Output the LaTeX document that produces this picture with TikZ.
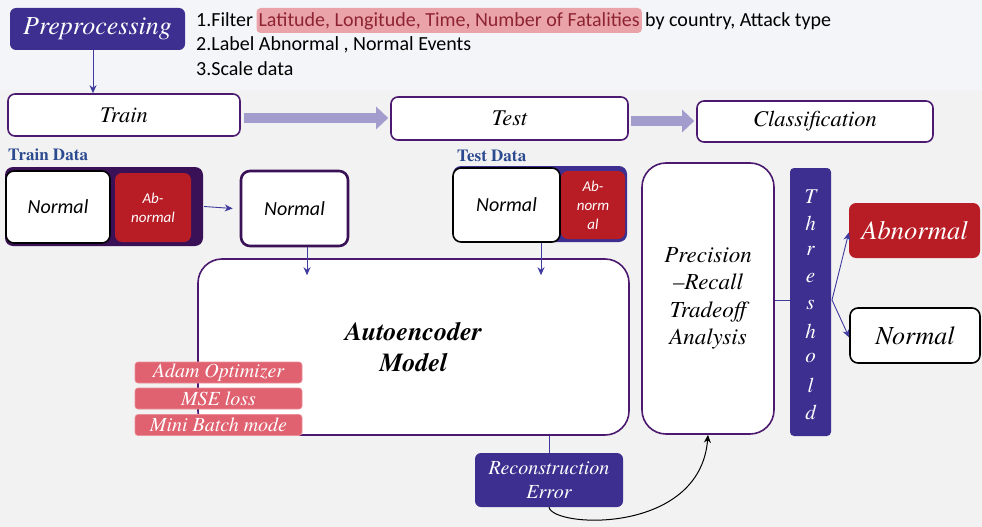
\documentclass[tikz,border=0pt]{standalone}
\usepackage{fontspec}
\setmainfont{texgyretermes}[Extension=.otf, UprightFont=*-regular, ItalicFont=*-italic, BoldFont=*-bold, BoldItalicFont=*-bolditalic]
\newfontfamily\carlito{Carlito}
\usetikzlibrary{arrows.meta}
\newcommand\fsz[2]{\fontsize{#1}{#2}\selectfont}
\definecolor{indigo}{HTML}{3C2F8F}
\definecolor{bord}{HTML}{4B1A70}
\definecolor{redb}{HTML}{B81D25}
\definecolor{hlpink}{HTML}{EBA3AA}
\definecolor{hltext}{HTML}{8E2433}
\definecolor{pinklab}{HTML}{E0616F}
\definecolor{fatc}{HTML}{A39DCD}
\definecolor{cont}{HTML}{3A1056}
\definecolor{arrc}{HTML}{3E3A9E}
\definecolor{tdblue}{HTML}{2C4A90}
\definecolor{bgA}{HTML}{F2F2F2}
\definecolor{bgB}{HTML}{F4F5F8}
\tikzset{
  stage/.style={draw=bord, line width=1.6pt, fill=white, rounded corners=7pt, inner sep=0pt, font=\fsz{22.5}{26}\itshape},
  indbox/.style={fill=indigo, rounded corners=6pt, inner sep=0pt, text=white, align=center},
  redbox/.style={fill=redb, rounded corners=7pt, inner sep=0pt, text=white, align=center},
  whitebox/.style={draw=black, line width=1.6pt, fill=white, rounded corners=8pt, inner sep=0pt},
  bigbox/.style={draw=bord, line width=1.6pt, fill=white, rounded corners=24pt, inner sep=0pt, align=center},
  plab/.style={fill=pinklab, draw=pinklab!70!white, line width=0.6pt, rounded corners=3pt, inner sep=0pt, minimum width=167pt, minimum height=21pt, text=white, font=\fsz{20}{22}\itshape},
  line1/.style={inner sep=0pt, anchor=base west, font=\carlito\fsz{20}{23}},
  thin/.style={draw=arrc, line width=0.9pt, -{Stealth[length=8pt,width=7pt]}},
  fat/.style={draw=fatc, line width=10pt, -{Triangle[length=12pt,width=22pt]}},
  dlabel/.style={inner sep=0pt, anchor=base west, text=tdblue, font=\fsz{17}{20}\bfseries},
  thl/.style={inner sep=0pt, text=white, font=\fsz{21}{24}\itshape}
}
\begin{document}
\begin{tikzpicture}[x=1pt,y=-1pt]
\useasboundingbox[fill=bgA] (0,0) rectangle (982,527);
\fill[bgB] (0,0) rectangle (982,90);

% preprocessing
\node[indbox, minimum width=175pt, minimum height=42pt, font=\fsz{26}{30}\itshape] (pre) at (97.5,29) {Preprocessing};
\node[line1] (l1a) at (196,27) {1.Filter};
\node[line1, fill=hlpink, text=hltext, rounded corners=4pt, inner xsep=2pt, inner ysep=0pt, text depth=6pt, text height=19pt] (l1b) at ([xshift=3pt]l1a.base east) {Latitude, Longitude, Time, Number of Fatalities};
\node[line1] (l1c) at ([xshift=3pt]l1b.base east) {by country, Attack type};
\node[line1] (l2) at (196,51) {2.Label Abnormal , Normal Events};
\node[line1] (l3) at (196,75) {3.Scale data};

% stages
\node[stage, minimum width=232pt, minimum height=42pt] (train) at (124,115) {Train};
\node[stage, minimum width=237pt, minimum height=43pt] (test) at (509.5,118.5) {Test};
\node[stage, minimum width=236pt, minimum height=41pt] (cls) at (815,121.5) {Classification};
\draw[thin] (pre.south -| 93,0) -- (train.north -| 93,0);
\draw[fat] ([xshift=3pt]train.east |- 0,118) -- ([xshift=-2pt]test.west |- 0,118);
\draw[fat] ([xshift=2pt]test.east |- 0,121) -- ([xshift=-2pt]cls.west |- 0,121);

% train data
\node[dlabel] (trlab) at (8,160) {Train Data};
\node[fill=cont, rounded corners=8pt, minimum width=198pt, minimum height=79pt, inner sep=0pt] (trcont) at (104,206.5) {};
\node[whitebox, minimum width=104pt, minimum height=72pt, font=\carlito\fsz{20}{24}\itshape] (trn) at (58,207) {Normal};
\node[redbox, minimum width=76pt, minimum height=69pt, font=\carlito\fsz{15}{19}\itshape] (tra) at (153,207.5) {Ab-\\normal};
\node[draw=cont, line width=2.6pt, fill=white, rounded corners=9pt, inner sep=0pt, minimum width=107pt, minimum height=75pt, font=\carlito\fsz{20}{24}\itshape] (n2) at (294.5,208.5) {Normal};
\draw[thin] ([xshift=1pt]trcont.east) -- ([xshift=-7pt]n2.west);

% test data
\node[dlabel] (telab) at (457,161) {Test Data};
\node[fill=indigo, rounded corners=8pt, minimum width=174pt, minimum height=76pt, inner sep=0pt] (tecont) at (540,204) {};
\node[whitebox, minimum width=107pt, minimum height=74pt, font=\carlito\fsz{20}{24}\itshape] (ten) at (506.5,205) {Normal};
\node[redbox, minimum width=64pt, minimum height=68pt, font=\carlito\fsz{15}{19}\itshape] (tea) at (593,205) {Ab-\\norm\\al};

% autoencoder
\node[bigbox, minimum width=431pt, minimum height=176pt, font=\fsz{26}{31}\bfseries\itshape] (ae) at (413.5,347) {Autoencoder\\Model};
\draw[thin] (n2.south -| 307,0) -- ([yshift=-17pt]ae.north -| 307,0);
\draw[thin] (ten.south -| 541,0) -- ([yshift=-17pt]ae.north -| 541,0);
\node[plab] (adam) at (218.5,372.5) {Adam Optimizer};
\node[plab] (mse) at (218.5,398.5) {MSE loss};
\node[plab] (mini) at (218.5,425) {Mini Batch mode};

% reconstruction
\node[indbox, minimum width=148pt, minimum height=54pt, font=\fsz{20}{24}\itshape] (rec) at (549,480) {Reconstruction\\Error};
\draw[draw=arrc, line width=0.9pt] (rec.north |- ae.south) -- (rec.north);

% precision
\node[bigbox, minimum width=132pt, minimum height=271pt, font=\fsz{23}{27.5}\itshape] (pr) at (708,298.5) {Precision\\–Recall\\Tradeoff\\Analysis};
\draw[black, line width=1pt, -{Stealth[length=8pt,width=7pt]}] (rec.south) .. controls (553,528) and (700,535) .. (pr.south);

% threshold
\node[fill=indigo, rounded corners=4pt, minimum width=41pt, minimum height=268pt, inner sep=0pt] (th) at (810.5,302) {};
\foreach \l [count=\i] in {T,h,r,e,s,h,o,l,d}
  \node[thl] (thl\i) at (810.5,170+26.9*\i) {\l};
\draw[draw=arrc, line width=0.9pt] (pr.east |- 0,300) -- (th.west |- 0,300);

% outputs
\node[redbox, minimum width=131pt, minimum height=55pt, font=\fsz{26.5}{30}\itshape] (ab) at (914.5,230.5) {Abnormal};
\node[whitebox, minimum width=130pt, minimum height=55pt, font=\fsz{26}{30}\itshape] (nr) at (915,335.5) {Normal};
\coordinate (tho) at (832,300);
\draw[thin] (tho) -- ([yshift=-2pt]ab.west);
\draw[thin] (tho) -- ([yshift=-2pt]nr.west);
\end{tikzpicture}
\end{document}
